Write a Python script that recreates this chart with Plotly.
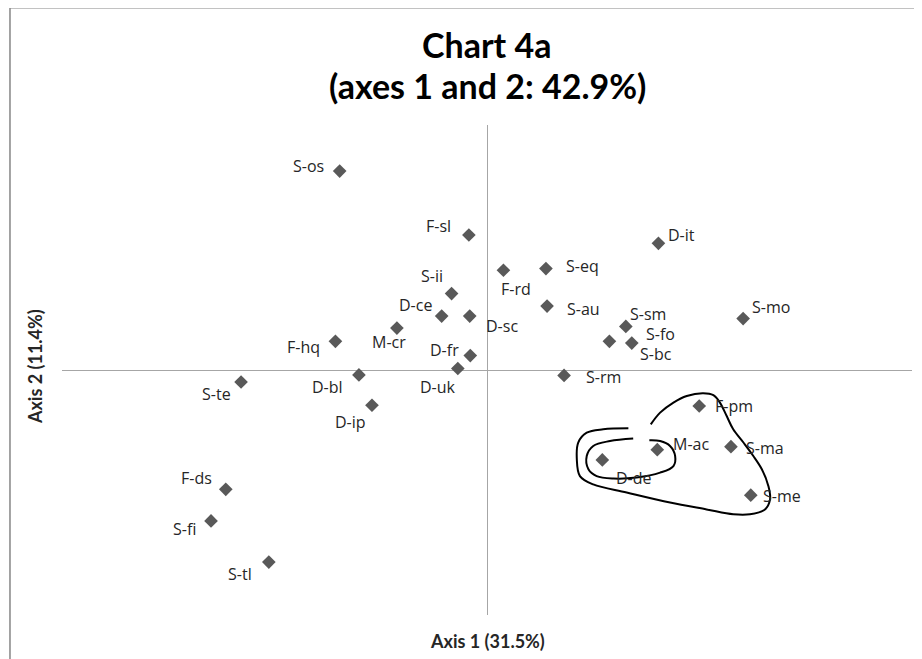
import plotly.graph_objects as go

# ---- data (correspondence analysis coordinates) ----
labels = ["S-os", "F-sl", "S-ii", "D-ce", "D-sc", "M-cr", "F-hq", "D-fr", "D-uk",
          "D-bl", "S-te", "D-ip", "F-rd", "S-eq", "D-it", "S-au", "S-sm", "S-bc",
          "S-fo", "S-mo", "S-rm", "F-pm", "M-ac", "S-ma", "D-de", "S-me", "F-ds",
          "S-fi", "S-tl"]
axis1 = [-0.520, -0.064, -0.125, -0.160, -0.061, -0.318, -0.535, -0.059, -0.103,
         -0.452, -0.868, -0.406, 0.058, 0.208, 0.605, 0.212, 0.490, 0.432,
         0.511, 0.904, 0.272, 0.749, 0.601, 0.861, 0.407, 0.931, -0.922,
         -0.974, -0.770]
axis2 = [0.812, 0.551, 0.312, 0.220, 0.220, 0.171, 0.117, 0.059, 0.006,
         -0.020, -0.049, -0.144, 0.407, 0.414, 0.517, 0.261, 0.178, 0.117,
         0.110, 0.210, -0.022, -0.147, -0.325, -0.313, -0.367, -0.511, -0.487,
         -0.616, -0.784]

# hand-drawn enclosing curves (in axis units)
outer_x = [0.578, 0.611, 0.658, 0.705, 0.763, 0.799, 0.822, 0.846, 0.869, 0.905,
           0.940, 0.970, 0.993, 0.999, 0.981, 0.928, 0.869, 0.775, 0.646, 0.493,
           0.375, 0.328, 0.317, 0.322, 0.352, 0.410, 0.499]
outer_y = [-0.222, -0.174, -0.133, -0.106, -0.095, -0.103, -0.133, -0.188, -0.242,
           -0.296, -0.351, -0.405, -0.473, -0.528, -0.569, -0.589, -0.589, -0.569,
           -0.541, -0.500, -0.467, -0.433, -0.364, -0.296, -0.256, -0.242, -0.238]
inner_x = [0.516, 0.434, 0.375, 0.352, 0.358, 0.387, 0.446, 0.528, 0.611, 0.658,
           0.664, 0.646, 0.611, 0.573]
inner_y = [-0.280, -0.290, -0.310, -0.351, -0.405, -0.433, -0.443, -0.439, -0.419,
           -0.392, -0.351, -0.310, -0.290, -0.287]

title_line1 = "Chart 4a"
title_line2 = "(axes 1 and 2: 42.9%)"
x_title = "Axis 1 (31.5%)"
y_title = "Axis 2 (11.4%)"

# ---- label placement (pixel offsets from marker, style only) ----
label_offsets = {
    "S-os": (-31, -5), "F-sl": (-30, -9), "S-ii": (-20, -18), "D-ce": (-26, -11),
    "D-sc": (32, 10), "M-cr": (-8, 14), "F-hq": (-32, 6), "D-fr": (-26, -6),
    "D-uk": (-20, 18), "D-bl": (-31, 12), "S-te": (-25, 12), "D-ip": (-21, 17),
    "F-rd": (13, 19), "S-eq": (37, -3), "D-it": (23, -8), "S-au": (36, 3),
    "S-sm": (22, -12), "S-bc": (47, 13), "S-fo": (29, -9), "S-mo": (28, -12),
    "S-rm": (39, 2), "F-pm": (35, 0), "M-ac": (34, -6), "S-ma": (34, 1),
    "D-de": (32, 18), "S-me": (31, 1), "F-ds": (-29, -11), "S-fi": (-27, 8),
    "S-tl": (-29, 12),
}

fig = go.Figure()
fig.add_trace(go.Scatter(
    x=axis1, y=axis2, mode="markers", text=labels, hoverinfo="text",
    marker=dict(symbol="diamond", size=10.5, color="#595959"),
    showlegend=False,
))
for cx, cy in ((outer_x, outer_y), (inner_x, inner_y)):
    fig.add_trace(go.Scatter(
        x=cx, y=cy, mode="lines", hoverinfo="skip", showlegend=False,
        line=dict(color="black", width=2, shape="spline", smoothing=1.0),
    ))

annotations = []
for lab, xv, yv in zip(labels, axis1, axis2):
    dx, dy = label_offsets[lab]
    annotations.append(dict(
        x=xv, y=yv, text=lab, showarrow=False, xanchor="center", yanchor="middle",
        xshift=dx, yshift=-dy, borderpad=0,
        font=dict(family="Open Sans", size=16, color="#262626"),
    ))

title_font = dict(family="Lato", size=34, color="black", weight="bold")
annotations.append(dict(
    x=0.5, y=1.1633, xref="paper", yref="paper", text=title_line1, showarrow=False,
    xanchor="center", yanchor="middle", font=title_font,
))
annotations.append(dict(
    x=0.5, y=1.0796, xref="paper", yref="paper", text=title_line2, showarrow=False,
    xanchor="center", yanchor="middle", font=title_font,
))
annotations.append(dict(
    x=0.5, y=-0.0531, xref="paper", yref="paper", text=x_title, showarrow=False,
    xanchor="center", yanchor="middle", font=dict(family="Lato", size=18, color="#262626", weight="bold"),
))
annotations.append(dict(
    x=-0.0318, y=0.508, xref="paper", yref="paper", text=y_title, showarrow=False,
    textangle=-90, xanchor="center", yanchor="middle",
    font=dict(family="Lato", size=18, color="#262626", weight="bold"),
))

axis_common = dict(showgrid=False, showticklabels=False, ticks="", showline=False,
                   zeroline=True, zerolinecolor="#a6a6a6", zerolinewidth=1, fixedrange=True)

fig.update_layout(
    width=914, height=651,
    margin=dict(l=54, r=10, t=117, b=44),
    paper_bgcolor="white", plot_bgcolor="white",
    xaxis=dict(range=[-1.5, 1.5], **axis_common),
    yaxis=dict(range=[-1.0, 1.0], **axis_common),
    annotations=annotations,
    shapes=[dict(type="rect", xref="paper", yref="paper",
                 x0=-0.0612, y0=-0.3, x1=1.2, y1=1.2394,
                 line=dict(color="#868686", width=1.5), layer="below")],
)

fig.write_html("out.html")
